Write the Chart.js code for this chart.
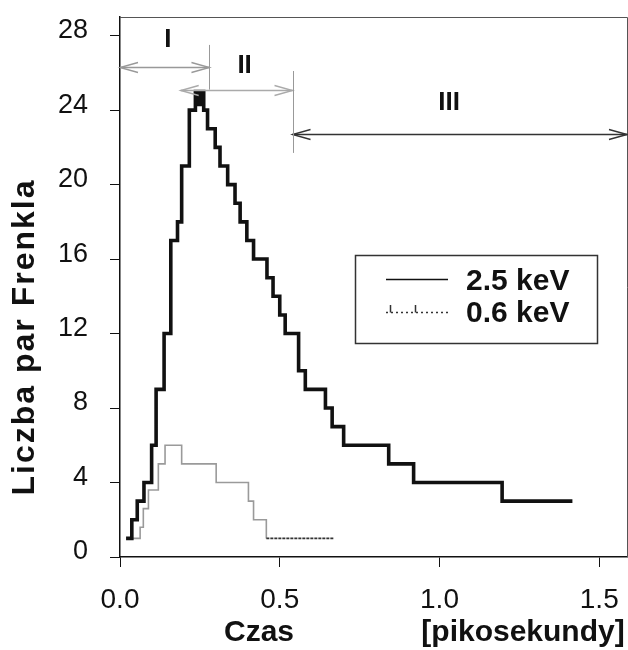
<!DOCTYPE html>
<html><head><meta charset="utf-8">
<script src="https://cdn.jsdelivr.net/npm/chart.js@4.4.1/dist/chart.umd.min.js"></script>
<style>html,body{margin:0;padding:0;background:#fff}canvas{display:block}</style>
</head><body>
<canvas id="c" width="628" height="650"></canvas>
<script>
// ---- data ----
const seriesNames = ['2.5 keV', '0.6 keV'];
const time25 = [0.019,0.037,0.054,0.075,0.099,0.113,0.138,0.159,0.180,0.193,0.217,0.236,0.246,0.252,0.262,0.274,0.298,0.313,0.337,0.360,0.376,0.397,0.418,0.460,0.479,0.500,0.517,0.559,0.580,0.643,0.664,0.700,0.841,0.919,1.196,1.416];
const pairs25 = [1,2,3,4,6,9,12,17,18,21,24,25,24.3,25,24,23,22,21,20,19,18,17,16,15,14,13,12,10,9,8,7,6,5,4,3,3];
const time06 = [0.030,0.063,0.073,0.089,0.120,0.141,0.193,0.301,0.402,0.418,0.458,0.669];
const pairs06 = [1,1.6,2.6,3.6,5,6,5,4,3,2,1,1];
const xTicks = [0, 0.5, 1.0, 1.5];
const yTicks = [0, 4, 8, 12, 16, 20, 24, 28];
const regionNames = ['I', 'II', 'III'];
const regionFrom = [0, 0.19, 0.54];
const regionTo = [0.28, 0.54, 1.59];
const regionLevel = [26.3, 25.1, 22.7];
const regionLabelX = [0.15, 0.39, 1.03];
const regionLabelY = [27.8, 26.4, 24.4];
const dividerX = [0.28, 0.54];
const dividerTop = [27.5, 26.1];
const dividerBottom = [25.1, 21.7];
const yTitle = 'Liczba par Frenkla';
const xTitle = 'Czas';
const xUnit = '[pikosekundy]';

const FONT = '"Liberation Sans", Arial, sans-serif';
Chart.defaults.font.family = FONT;
Chart.defaults.color = '#111';

const overlay = {
  id: 'overlay',
  afterDraw(chart) {
    const {ctx, chartArea: a, scales: {x, y}} = chart;
    const X = v => x.getPixelForValue(v), Y = v => y.getPixelForValue(v);
    ctx.save();
    // frame (top + right)
    ctx.strokeStyle = '#555'; ctx.lineWidth = 1;
    ctx.beginPath();
    ctx.moveTo(a.left, a.top + 0.5); ctx.lineTo(a.right - 0.5, a.top + 0.5); ctx.lineTo(a.right - 0.5, a.bottom);
    ctx.stroke();
    // region arrows
    const head = (px, py, dir) => {
      ctx.beginPath();
      ctx.moveTo(px - dir * 18, py - 5); ctx.lineTo(px, py); ctx.lineTo(px - dir * 18, py + 5);
      ctx.stroke();
    };
    const arrowColors = ['#999', '#aaa', '#333'];
    regionNames.forEach((n, i) => {
      const x1 = X(regionFrom[i]), x2 = Math.min(X(regionTo[i]), a.right - 1), yy = Math.round(Y(regionLevel[i])) + 0.5;
      ctx.strokeStyle = arrowColors[i]; ctx.lineWidth = 1.3;
      ctx.beginPath(); ctx.moveTo(x1, yy); ctx.lineTo(x2, yy); ctx.stroke();
      head(x1, yy, -1); head(x2, yy, 1);
      ctx.fillStyle = '#111';
      ctx.font = 'bold 26px ' + FONT;
      ctx.textAlign = 'center'; ctx.textBaseline = 'middle';
      ctx.fillText(n, X(regionLabelX[i]), Y(regionLabelY[i]));
    });
    dividerX.forEach((d, i) => {
      ctx.strokeStyle = '#999'; ctx.lineWidth = 1;
      const xx = Math.round(X(d)) + 0.5;
      ctx.beginPath(); ctx.moveTo(xx, Y(dividerTop[i])); ctx.lineTo(xx, Y(dividerBottom[i])); ctx.stroke();
    });
    // legend
    ctx.strokeStyle = '#333'; ctx.lineWidth = 1.5;
    ctx.strokeRect(355.5, 255.5, 242, 88);
    ctx.strokeStyle = '#111'; ctx.lineWidth = 1.5;
    ctx.beginPath(); ctx.moveTo(386, 279.5); ctx.lineTo(448, 279.5); ctx.stroke();
    ctx.strokeStyle = '#333'; ctx.lineWidth = 1.5; ctx.setLineDash([2, 3]);
    ctx.beginPath(); ctx.moveTo(386, 312.5); ctx.lineTo(448, 312.5); ctx.stroke();
    ctx.setLineDash([]);
    ctx.beginPath(); ctx.moveTo(390.5, 305); ctx.lineTo(390.5, 312.5); ctx.moveTo(415.5, 305); ctx.lineTo(415.5, 312.5); ctx.stroke();
    ctx.fillStyle = '#111';
    ctx.font = 'bold 30px ' + FONT;
    ctx.textAlign = 'left'; ctx.textBaseline = 'middle';
    ctx.fillText(seriesNames[0], 466, 282);
    ctx.fillText(seriesNames[1], 466, 314);
    // axis titles
    ctx.textAlign = 'center';
    ctx.fillText(xTitle, 259, 633);
    ctx.fillText(xUnit, 523, 633);
    ctx.save();
    ctx.translate(25, 337); ctx.rotate(-Math.PI / 2);
    ctx.font = 'bold 32px ' + FONT;
    try { ctx.letterSpacing = '2px'; } catch (e) {}
    ctx.fillText(yTitle, 0, 0);
    ctx.restore();
    ctx.restore();
  }
};

new Chart(document.getElementById('c'), {
  type: 'line',
  data: {
    datasets: [
      {
        label: seriesNames[0],
        data: time25.map((t, i) => ({x: t, y: pairs25[i]})),
        borderColor: '#111', borderWidth: 3.6, stepped: true,
        pointRadius: 0, fill: false, borderJoinStyle: 'miter', borderCapStyle: 'butt', order: 1
      },
      {
        label: seriesNames[1],
        data: time06.map((t, i) => ({x: t, y: pairs06[i]})),
        borderColor: '#9a9a9a', borderWidth: 1.6, stepped: true,
        pointRadius: 0, fill: false, order: 2,
        segment: {
          borderColor: c => c.p0DataIndex >= time06.length - 2 ? '#333' : undefined,
          borderDash: c => c.p0DataIndex >= time06.length - 2 ? [3, 1] : undefined
        }
      }
    ]
  },
  options: {
    responsive: false,
    animation: false,
    layout: {padding: {top: 17, right: 0, left: 0, bottom: 0}},
    plugins: {legend: {display: false}, tooltip: {enabled: false}},
    scales: {
      x: {
        type: 'linear', min: 0, max: 1.59,
        afterBuildTicks: s => { s.ticks = xTicks.map(v => ({value: v})); },
        afterFit: s => { s.height = 93; s.paddingLeft = 0; s.paddingRight = 0; },
        ticks: {callback: v => Number(v).toFixed(1), font: {size: 28}, color: '#111', padding: 16, maxRotation: 0, autoSkip: false},
        grid: {drawOnChartArea: false, tickLength: 10, color: '#111', lineWidth: 1},
        border: {color: '#111', width: 1.5}
      },
      y: {
        type: 'linear', min: 0, max: 29,
        afterBuildTicks: s => { s.ticks = yTicks.map(v => ({value: v})); },
        afterFit: s => { s.width = 120; s.paddingTop = 0; s.paddingBottom = 0; },
        ticks: {font: {size: 27}, color: '#111', padding: 22, labelOffset: -5, autoSkip: false},
        grid: {drawOnChartArea: false, tickLength: 10, color: '#111', lineWidth: 1},
        border: {color: '#111', width: 1.5}
      }
    }
  },
  plugins: [overlay]
});
</script>
</body></html>
